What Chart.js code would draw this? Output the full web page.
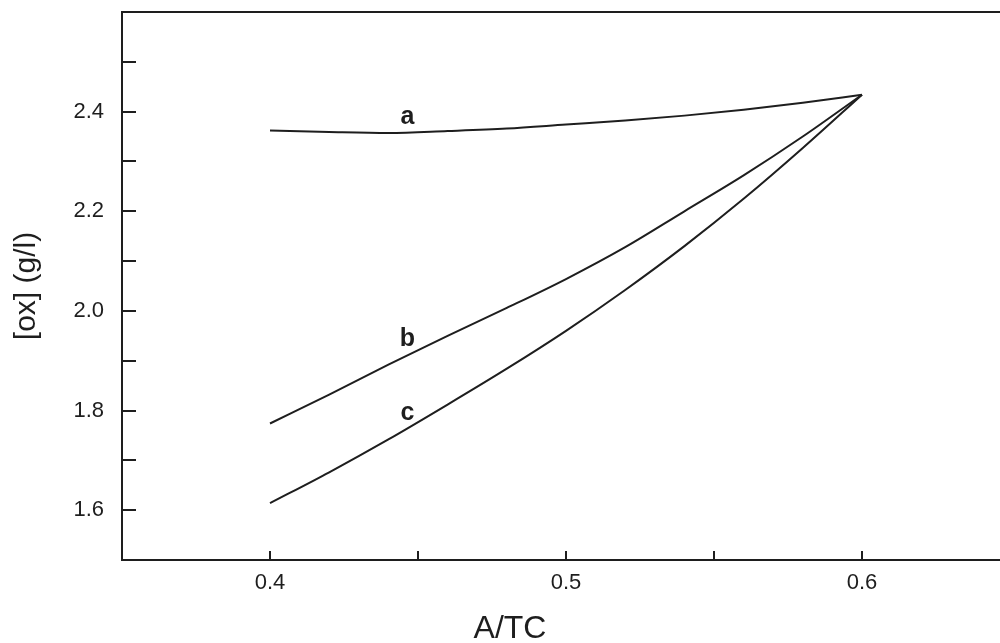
<!DOCTYPE html>
<html>
<head>
<meta charset="utf-8">
<script src="https://cdn.jsdelivr.net/npm/chart.js@4.4.1/dist/chart.umd.min.js"></script>
<style>
  html, body { margin: 0; padding: 0; background: #fff; overflow: hidden; }
  #wrap { width: 1012px; height: 643px; }
</style>
</head>
<body>
<div id="wrap"><canvas id="oxChart"></canvas></div>
<script>
// A/TC ratio (x) and [ox] concentration in g/l for the three curves
var ratio = [0.40, 0.42, 0.44, 0.46, 0.48, 0.50, 0.52, 0.54, 0.56, 0.58, 0.60];
var curveA = [2.362, 2.359, 2.357, 2.361, 2.366, 2.374, 2.382, 2.392, 2.404, 2.418, 2.434];
var curveB = [1.774, 1.832, 1.892, 1.950, 2.006, 2.064, 2.128, 2.200, 2.272, 2.350, 2.434];
var curveC = [1.614, 1.676, 1.742, 1.812, 1.884, 1.960, 2.042, 2.130, 2.225, 2.327, 2.434];

// curve names and where they sit (data coords)
var curveNames = ["a", "b", "c"];
var nameX = [0.4464, 0.4464, 0.4464];
var nameY = [2.3746, 1.930, 1.7814];

var ink = "#1e1e1e";
var fontFam = "'Liberation Sans', Arial, Helvetica, sans-serif";

function pts(ys) {
    return ratio.map(function (x, i) { return {x: x, y: ys[i]}; });
}
function line(name, ys) {
    return {
        label: name,
        data: pts(ys),
        borderColor: ink,
        borderWidth: 2,
        pointRadius: 0,
        fill: false,
        cubicInterpolationMode: 'monotone'
    };
}
function noPad(s) {
    s.paddingLeft = 0; s.paddingRight = 0;
    s.paddingTop = 0; s.paddingBottom = 0;
}

// inward tick marks, curve letters and x title
var decor = {
    id: 'decor',
    afterDraw: function (chart) {
        var ctx = chart.ctx;
        var area = chart.chartArea;
        var xs = chart.scales.x, ys = chart.scales.y;
        ctx.save();
        ctx.strokeStyle = ink;
        ctx.lineWidth = 2;
        ctx.beginPath();
        ys.ticks.forEach(function (t) {
            if (t.value <= ys.min + 1e-6 || t.value >= ys.max - 1e-6) return;
            var py = Math.round(ys.getPixelForValue(t.value));
            ctx.moveTo(area.left, py);
            ctx.lineTo(area.left + 14, py);
        });
        xs.ticks.forEach(function (t) {
            if (t.value <= xs.min + 1e-6 || t.value >= xs.max - 1e-6) return;
            var px = Math.round(xs.getPixelForValue(t.value));
            ctx.moveTo(px, area.bottom);
            ctx.lineTo(px, area.bottom - 9);
        });
        ctx.stroke();

        ctx.fillStyle = ink;
        ctx.font = "bold 25px " + fontFam;
        ctx.textAlign = 'center';
        ctx.textBaseline = 'alphabetic';
        curveNames.forEach(function (n, i) {
            ctx.fillText(n, xs.getPixelForValue(nameX[i]), ys.getPixelForValue(nameY[i]));
        });

        ctx.font = "32px " + fontFam;
        ctx.textBaseline = 'middle';
        ctx.fillText("A/TC", area.left + 388, 629);
        ctx.restore();
    }
};

var ctxO = document.getElementById("oxChart").getContext('2d');
var oxChart = new Chart(ctxO, {
    type: 'line',
    data: {
        datasets: [line("a", curveA), line("b", curveB), line("c", curveC)]
    },
    plugins: [decor],
    options: {
        responsive: true,
        maintainAspectRatio: false,
        animation: false,
        layout: {padding: {left: 0, right: 2, top: 0, bottom: 0}},
        plugins: {
            legend: {display: false},
            tooltip: {enabled: false}
        },
        scales: {
            x: {
                type: 'linear',
                min: 0.35,
                max: 0.65,
                grid: {display: false, drawTicks: false},
                border: {display: true, color: ink, width: 2},
                ticks: {
                    stepSize: 0.05,
                    padding: 10,
                    color: ink,
                    font: {family: fontFam, size: 22},
                    maxRotation: 0,
                    autoSkip: false,
                    callback: function (v) {
                        var k = Math.round(v * 100);
                        return (k % 10 === 0 && k > 35 && k < 65) ? (k / 100).toFixed(1) : '';
                    }
                },
                afterFit: function (s) { s.height = 83; noPad(s); }
            },
            x2: {
                type: 'linear',
                position: 'top',
                min: 0.35,
                max: 0.65,
                grid: {display: false, drawTicks: false},
                border: {display: true, color: ink, width: 2},
                ticks: {display: false},
                afterFit: function (s) { s.height = 12; noPad(s); }
            },
            y: {
                type: 'linear',
                min: 1.5,
                max: 2.6,
                grid: {display: false, drawTicks: false},
                border: {display: true, color: ink, width: 2},
                ticks: {
                    stepSize: 0.1,
                    padding: 18,
                    color: ink,
                    font: {family: fontFam, size: 22},
                    autoSkip: false,
                    callback: function (v) {
                        var k = Math.round(v * 10);
                        return (k % 2 === 0 && k > 15 && k < 26) ? (k / 10).toFixed(1) : '';
                    }
                },
                title: {
                    display: true,
                    text: "[ox] (g/l)",
                    color: ink,
                    font: {family: fontFam, size: 30},
                    padding: {top: 9, bottom: 0}
                },
                afterFit: function (s) { s.width = 122; noPad(s); }
            }
        }
    }
});
</script>
</body>
</html>
